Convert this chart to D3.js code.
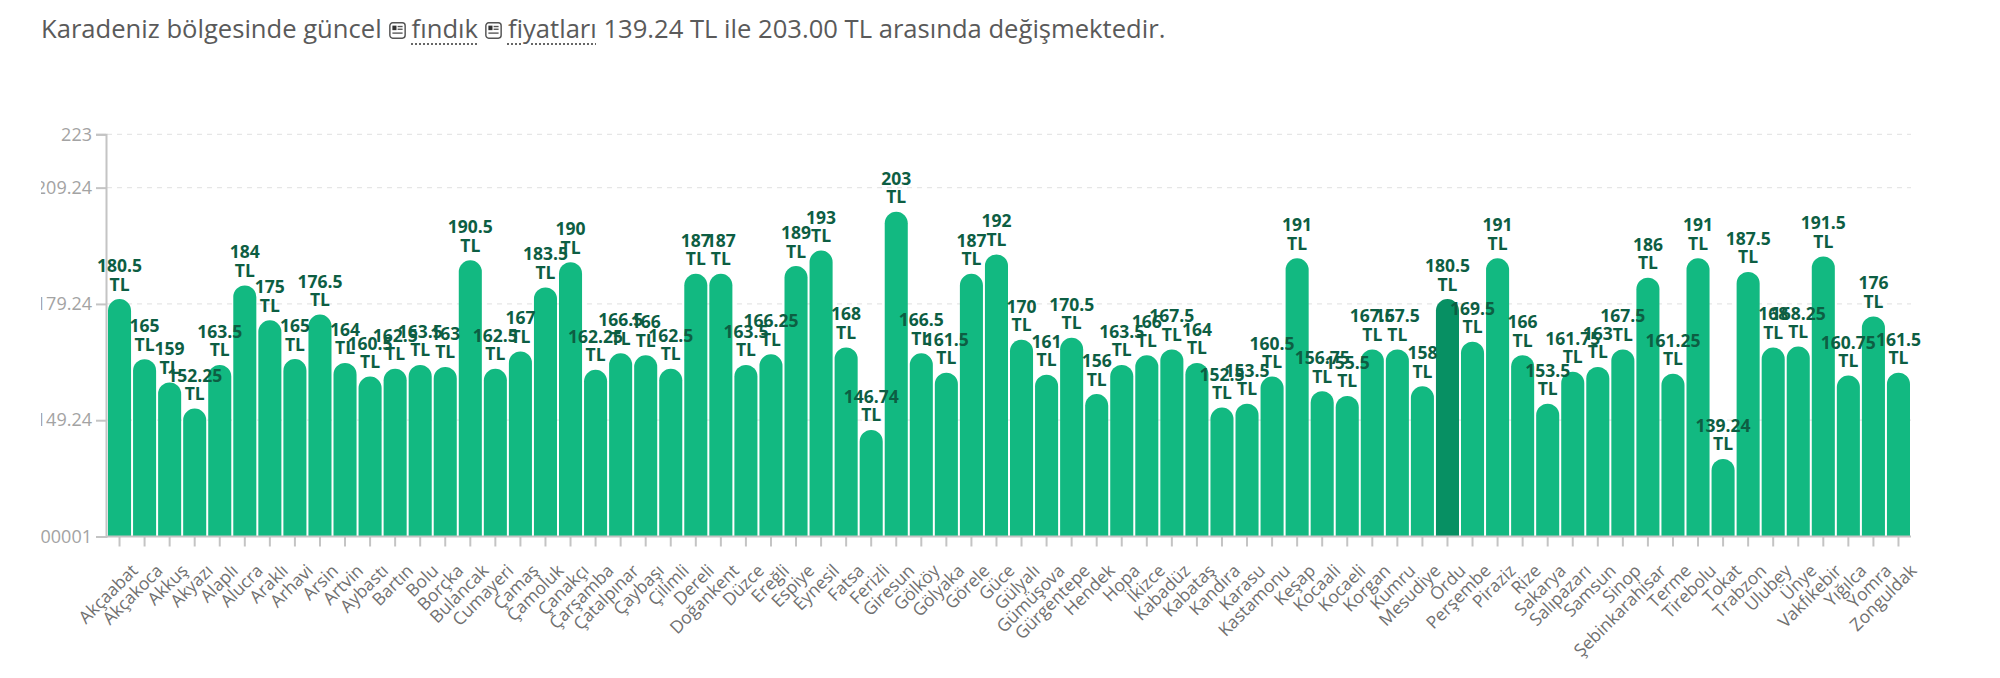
<!DOCTYPE html>
<html>
<head>
<meta charset="utf-8">
<script src="https://cdnjs.cloudflare.com/ajax/libs/d3/7.8.5/d3.min.js"></script>
<style>
  html, body { margin: 0; padding: 0; background: #fff; }
  body { width: 2000px; height: 678px; position: relative; overflow: hidden; font-family: "Open Sans", "Noto Sans", sans-serif; }
  #title { position: absolute; left: 41px; top: 12px; font-size: 25.6px; line-height: 34px; color: #5a5a5a; white-space: nowrap; }
  #title .lnk { text-decoration: underline dotted #666; text-decoration-thickness: 2px; text-underline-offset: 5px; }
  #title svg { vertical-align: -1px; margin: 0 6px 0 7px; }
  #chart { position: absolute; left: 0; top: 0; }
</style>
</head>
<body>
<div id="title"></div>
<svg id="chart" width="2000" height="678"></svg>
<script>
const categories = ["Akçaabat","Akçakoca","Akkuş","Akyazı","Alaplı","Alucra","Araklı","Arhavi","Arsin","Artvin","Aybastı","Bartın","Bolu","Borçka","Bulancak","Cumayeri","Çamaş","Çamoluk","Çanakçı","Çarşamba","Çatalpınar","Çaybaşı","Çilimli","Dereli","Doğankent","Düzce","Ereğli","Espiye","Eynesil","Fatsa","Ferizli","Giresun","Gölköy","Gölyaka","Görele","Güce","Gülyalı","Gümüşova","Gürgentepe","Hendek","Hopa","İkizce","Kabadüz","Kabataş","Kandıra","Karasu","Kastamonu","Keşap","Kocaali","Kocaeli","Korgan","Kumru","Mesudiye","Ordu","Perşembe","Piraziz","Rize","Sakarya","Salıpazarı","Samsun","Sinop","Şebinkarahisar","Terme","Tirebolu","Tokat","Trabzon","Ulubey","Ünye","Vakfıkebir","Yığılca","Yomra","Zonguldak"];
const prices = [180.5,165,159,152.25,163.5,184,175,165,176.5,164,160.5,162.5,163.5,163,190.5,162.5,167,183.5,190,162.25,166.5,166,162.5,187,187,163.5,166.25,189,193,168,146.74,203,166.5,161.5,187,192,170,161,170.5,156,163.5,166,167.5,164,152.5,153.5,160.5,191,156.75,155.5,167.5,167.5,158,180.5,169.5,191,166,153.5,161.75,163,167.5,186,161.25,191,139.24,187.5,168,168.25,191.5,160.75,176,161.5];
const highlighted = ["Ordu"];
const yTickValues = [119.24, 149.24, 179.24, 209.24, 223];
const yTickLabels = ["00001", "149.24", "179.24", "209.24", "223"];
const yDomain = [119.24, 223];
const titleParts = [
  {t: "Karadeniz bölgesinde güncel"}, {icon: true}, {t: "fındık", link: true}, {icon: true},
  {t: "fiyatları", link: true}, {t: " 139.24 TL ile 203.00 TL arasında değişmektedir."}
];
const unit = "TL";

// Title
const title = d3.select("#title");
titleParts.forEach(p => {
  if (p.icon) {
    const s = title.append("svg").attr("width", 17).attr("height", 17).attr("viewBox", "0 0 15 15");
    s.append("rect").attr("x", 0.75).attr("y", 0.75).attr("width", 13.5).attr("height", 13.5).attr("rx", 2.5).attr("fill", "#fff").attr("stroke", "#555").attr("stroke-width", 1.3);
    s.append("rect").attr("x", 3).attr("y", 3.2).attr("width", 3.6).attr("height", 4).attr("fill", "#333");
    s.append("rect").attr("x", 7.6).attr("y", 3.4).attr("width", 4.4).attr("height", 1.2).attr("fill", "#555");
    s.append("rect").attr("x", 7.6).attr("y", 5.8).attr("width", 4.4).attr("height", 1.2).attr("fill", "#555");
    s.append("rect").attr("x", 3).attr("y", 9.2).attr("width", 9).attr("height", 1.2).attr("fill", "#555");
  } else {
    const sp = title.append("span").text(p.t);
    if (p.link) sp.attr("class", "lnk");
  }
});

// Chart
const svg = d3.select("#chart");
const x = d3.scaleBand().domain(categories).range([107, 1911]).paddingInner(0.08).paddingOuter(0.04);
const y = d3.scaleLinear().domain(yDomain).range([536.5, 134.3]);
const defs = svg.append("defs");

// Gridlines
svg.append("g").selectAll("line").data(yTickValues.slice(1)).join("line")
  .attr("x1", 107).attr("x2", 1911)
  .attr("y1", d => y(d)).attr("y2", d => y(d))
  .attr("stroke", "#e6e6e6").attr("stroke-width", 1.2).attr("stroke-dasharray", "5,5");

// Y axis
const yAxis = d3.axisLeft(y).tickValues(yTickValues).tickFormat((d, i) => yTickLabels[i]).tickSize(10).tickPadding(4);
const gy = svg.append("g").attr("transform", "translate(106,0)").call(yAxis);
gy.select(".domain").attr("stroke", "#c4c4c4").attr("stroke-width", 2);
gy.selectAll(".tick line").attr("stroke", "#c4c4c4").attr("stroke-width", 2);
gy.selectAll(".tick text").attr("fill", "#a3a3a3").attr("font-size", 18).attr("font-family", "Open Sans, sans-serif");
defs.append("clipPath").attr("id", "lclipY").append("rect").attr("x", 41 - 106).attr("y", 0).attr("width", 2000).attr("height", 678);
gy.attr("clip-path", "url(#lclipY)");

// Bars
const bw = x.bandwidth();
const r = bw / 2;
function barPath(d, i) {
  const x0 = x(categories[i]), x1 = x0 + bw, yb = y(yDomain[0]), yt = y(d);
  return `M${x0},${yb}V${yt + r}A${r},${r} 0 0 1 ${x1},${yt + r}V${yb}Z`;
}
svg.append("g").selectAll("path").data(prices).join("path")
  .attr("d", barPath)
  .attr("fill", (d, i) => highlighted.includes(categories[i]) ? "#079063" : "#12b981");

// X axis
const xAxis = d3.axisBottom(x).tickSize(10).tickSizeOuter(0).tickPadding(0);
const gx = svg.append("g").attr("transform", `translate(0,${y(yDomain[0])})`).call(xAxis);
gx.select(".domain").attr("stroke", "#c4c4c4").attr("stroke-width", 2).attr("d", `M106,0H${x.range()[1]}`);
gx.selectAll(".tick line").attr("stroke", "#c4c4c4").attr("stroke-width", 2);
gx.selectAll(".tick text")
  .attr("fill", "#707070").attr("font-size", 17.5).attr("font-family", "Open Sans, sans-serif")
  .attr("text-anchor", "end").attr("y", 0).attr("dy", "0.35em")
  .attr("transform", "translate(15,31) rotate(-45)");

// Value labels
const lg = svg.append("g").attr("font-family", "Open Sans, sans-serif").attr("font-weight", "bold").attr("font-size", 17.5).attr("fill", "#0d5e43").attr("text-anchor", "middle");
lg.selectAll("text.v").data(prices).join("text").attr("class", "v")
  .attr("x", (d, i) => x(categories[i]) + bw / 2).attr("y", d => y(d) - 27)
  .text(d => String(d));
lg.selectAll("text.u").data(prices).join("text").attr("class", "u")
  .attr("x", (d, i) => x(categories[i]) + bw / 2).attr("y", d => y(d) - 8.5)
  .text(unit);
</script>
</body>
</html>
